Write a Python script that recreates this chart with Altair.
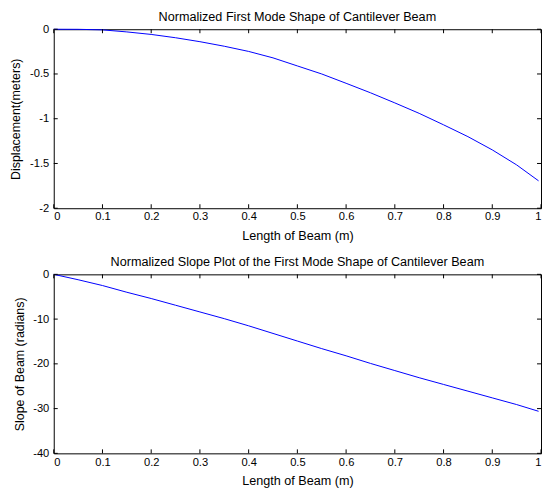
import altair as alt
import pandas as pd

# Beam position (m)
beam_x = [0, 0.05, 0.1, 0.15, 0.2, 0.25, 0.3, 0.35, 0.4, 0.45, 0.5,
          0.55, 0.6, 0.65, 0.7, 0.75, 0.8, 0.85, 0.9, 0.95, 0.995]
# Normalized displacement (m)
displacement = [0, -0.001, -0.007, -0.03, -0.058, -0.095, -0.139, -0.19, -0.248, -0.32, -0.41,
                -0.50, -0.604, -0.71, -0.823, -0.94, -1.068, -1.20, -1.348, -1.516, -1.694]
# Normalized slope (rad)
slope = [0, -1.2, -2.5, -4.0, -5.4, -6.9, -8.4, -9.9, -11.5, -13.2, -14.9,
         -16.6, -18.2, -19.9, -21.5, -23.1, -24.6, -26.1, -27.6, -29.1, -30.6]

x_ticks = [0, 0.1, 0.2, 0.3, 0.4, 0.5, 0.6, 0.7, 0.8, 0.9, 1]
disp_ticks = [0, -0.5, -1, -1.5, -2]
slope_ticks = [0, -10, -20, -30, -40]

df = pd.DataFrame({"x": beam_x, "disp": displacement, "slope": slope})
xt_df = pd.DataFrame({"t": x_ticks})

W = 490
TICK = 4
FONT = "Liberation Sans"
LABEL = "datum.value + ''"
LBL = 11.2
TTL = 12.7


def panel(ycol, yticks, ydomain, H, title, ytitle, ytitle_pad):
    xs = alt.Scale(domain=[0, 1], nice=False, zero=False)
    ys = alt.Scale(domain=ydomain, nice=False, zero=False)
    yt_df = pd.DataFrame({"t": yticks})
    main = alt.Chart(df).mark_line(color="#0000ff", strokeWidth=1).encode(
        x=alt.X("x:Q", scale=xs, axis=alt.Axis(
            values=x_ticks, title="Length of Beam (m)", ticks=False, domain=False,
            grid=False, labelExpr=LABEL, labelPadding=2.8, titlePadding=7.5,
            labelFontSize=LBL, titleFontSize=TTL)),
        y=alt.Y(f"{ycol}:Q", scale=ys, axis=alt.Axis(
            values=yticks, title=ytitle, ticks=False, domain=False, grid=False,
            labelExpr=LABEL, labelPadding=5, titlePadding=ytitle_pad,
            labelFontSize=LBL, titleFontSize=12.5)),
    )
    # inward tick marks on all four sides of the box (MATLAB style)
    xt_bottom = alt.Chart(xt_df).mark_rule(color="black", strokeWidth=1).encode(
        x=alt.X("t:Q", scale=xs, axis=None), y=alt.value(H), y2=alt.value(H - TICK))
    xt_top = alt.Chart(xt_df).mark_rule(color="black", strokeWidth=1).encode(
        x=alt.X("t:Q", scale=xs, axis=None), y=alt.value(0), y2=alt.value(TICK))
    yt_left = alt.Chart(yt_df).mark_rule(color="black", strokeWidth=1).encode(
        y=alt.Y("t:Q", scale=ys, axis=None), x=alt.value(0), x2=alt.value(TICK))
    yt_right = alt.Chart(yt_df).mark_rule(color="black", strokeWidth=1).encode(
        y=alt.Y("t:Q", scale=ys, axis=None), x=alt.value(W), x2=alt.value(W - TICK))
    return alt.layer(main, xt_bottom, xt_top, yt_left, yt_right).resolve_axis(
        x="independent", y="independent"
    ).properties(
        width=W, height=H,
        title=alt.TitleParams(title, fontSize=TTL, fontWeight="normal",
                              font=FONT, color="black", offset=0),
    )


top = panel("disp", disp_ticks, [-2, 0], 180,
            "Normalized First Mode Shape of Cantilever Beam",
            "Displacement(meters)", 7.4)
bottom = panel("slope", slope_ticks, [-40, 0], 180,
               "Normalized Slope Plot of the First Mode Shape of Cantilever Beam",
               "Slope of Beam (radians)", 6.7)

chart = alt.vconcat(top, bottom, spacing=11.5).properties(
    padding=0, background="white"
).configure(
    font=FONT,
).configure_view(
    stroke="black", strokeWidth=1
).configure_axis(
    labelFont=FONT, titleFont=FONT, labelColor="black", titleColor="black",
    titleFontWeight="normal"
)

chart.save("out.html", embed_options={"renderer": "svg", "actions": False})
